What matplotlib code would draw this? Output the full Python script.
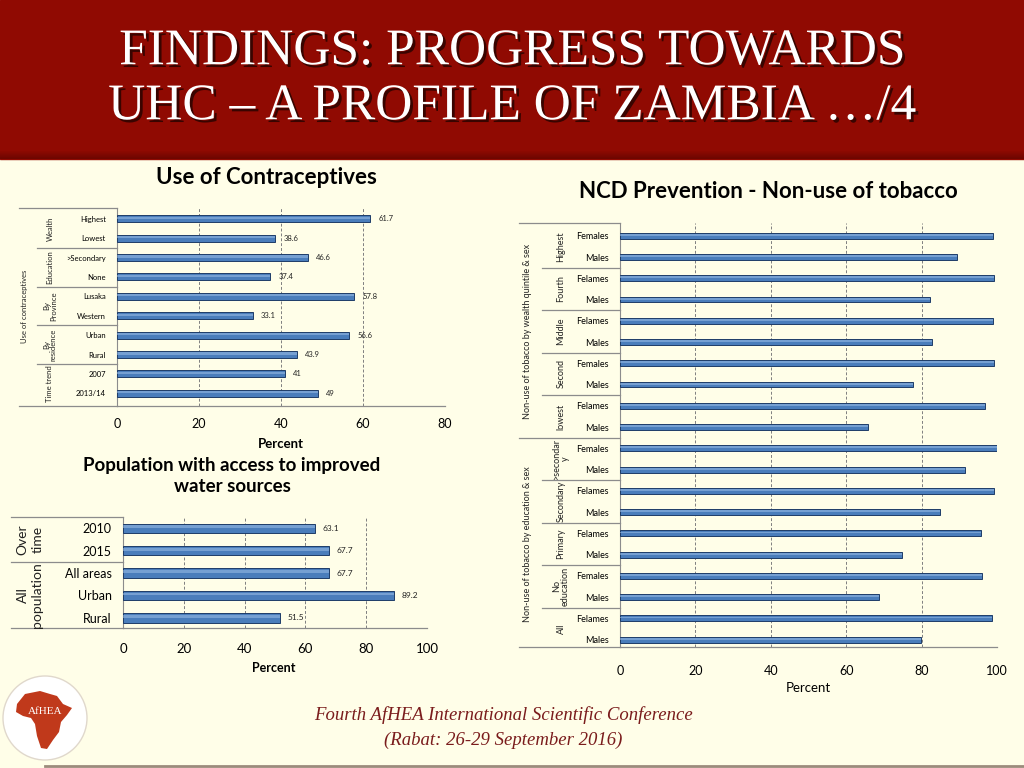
import matplotlib
matplotlib.use('Agg')
import matplotlib.pyplot as plt
import matplotlib.patheffects as pe
from matplotlib.patches import Rectangle, Circle, Polygon
from matplotlib.transforms import blended_transform_factory
import numpy as np

plt.rcParams['font.family'] = ['Lato', 'DejaVu Sans']

# ---- data ----
contra_cats = ['Highest', 'Lowest', '>Secondary', 'None', 'Lusaka', 'Western',
               'Urban', 'Rural', '2007', '2013/14']
contra_vals = [61.7, 38.6, 46.6, 37.4, 57.8, 33.1, 56.6, 43.9, 41, 49]
contra_groups = ['Wealth', 'Education', 'By\nProvince', 'By\nresidence', 'Time trend']
contra_group_sizes = [2, 2, 2, 2, 2]

water_cats = ['2010', '2015', 'All areas', 'Urban', 'Rural']
water_vals = [63.1, 67.7, 67.7, 89.2, 51.5]
water_groups = ['Over\ntime', 'All\npopulation']
water_group_sizes = [2, 3]

ncd_cats = ['Females', 'Males', 'Felames', 'Males', 'Felames', 'Males', 'Females', 'Males',
            'Felames', 'Males', 'Females', 'Males', 'Felames', 'Males', 'Felames', 'Males',
            'Females', 'Males', 'Felames', 'Males']
ncd_vals = [99.0, 89.3, 99.2, 82.2, 99.0, 82.7, 99.1, 77.8, 96.7, 65.9,
            100, 91.6, 99.3, 84.8, 95.8, 74.8, 96.1, 68.8, 98.6, 79.9]
ncd_groups = ['Highest', 'Fourth', 'Middle', 'Second', 'lowest',
              '>secondar\ny', 'Secondary', 'Primary', 'No\neducation', 'All']
ncd_group_sizes = [2] * 10
ncd_outer = ['Non-use of tobacco by wealth quintile & sex',
             'Non-use of tobacco by education & sex']
ncd_outer_sizes = [10, 10]

W, H = 1024, 768
CREAM = '#fffee8'
BAR = '#4a7dbb'
BAR_EDGE = '#1e3c68'
GRID = '#7f7f7f'
LINE = '#8c8c8c'

fig = plt.figure(figsize=(10.24, 7.68), dpi=100)
bg = fig.add_axes([0, 0, 1, 1], zorder=0)
bg.set_xlim(0, W)
bg.set_ylim(H, 0)
bg.axis('off')

# slide background and header
bg.add_patch(Rectangle((0, 0), W, H, color=CREAM))
bg.add_patch(Rectangle((0, 0), W, 159, color='#900a02'))
for i in range(8):
    bg.add_patch(Rectangle((0, 151 + i), W, 1, color='#5a0400', alpha=0.08 * (i + 1), lw=0))

shadow = [pe.SimplePatchShadow(offset=(2, -2), shadow_rgbFace='black', alpha=0.6), pe.Normal()]
bg.text(512, 52, 'FINDINGS: PROGRESS TOWARDS', ha='center', va='center', color='white',
        fontsize=37, family='Liberation Serif', path_effects=shadow)
bg.text(512, 107, 'UHC \u2013 A PROFILE OF ZAMBIA \u2026/4', ha='center', va='center', color='white',
        fontsize=37, family='Liberation Serif', path_effects=shadow)


def make_axes(x0, y0, x1, y1):
    return fig.add_axes([x0 / W, 1 - y1 / H, (x1 - x0) / W, (y1 - y0) / H], zorder=2)


def draw_chart(ax, cats, vals, xmax, bar_h, ylim, lab_size, tick_size, xpad, val_size=None):
    y = np.arange(len(cats))
    ax.set_facecolor('none')
    ax.barh(y, vals, height=bar_h, color=BAR, edgecolor=BAR_EDGE, lw=0.7, zorder=3)
    ax.barh(y - bar_h * 0.15, vals, height=bar_h * 0.3, color='#9cbde6', lw=0,
            alpha=0.55, zorder=4)
    if val_size:
        for yi, v in zip(y, vals):
            ax.text(v + xmax * 0.025, yi, f'{v:g}', va='center', ha='left',
                    fontsize=val_size, color='#222222', zorder=5)
    ax.set_xlim(0, xmax)
    ax.set_ylim(*ylim)
    ticks = list(range(0, xmax + 1, 20))
    ax.set_xticks(ticks)
    for t in ticks[1:]:
        ax.axvline(t, ls=(0, (3, 2)), color=GRID, lw=0.7, zorder=1)
    ax.set_yticks(y)
    ax.set_yticklabels(cats, fontsize=lab_size)
    ax.tick_params(length=0, labelsize=tick_size)
    ax.tick_params(axis='y', labelsize=lab_size, pad=8)
    ax.tick_params(axis='x', pad=xpad)
    for s in ['top', 'right', 'bottom']:
        ax.spines[s].set_visible(False)
    ax.spines['left'].set_color(LINE)
    ax.plot([0, 1], [0, 0], transform=ax.transAxes, color=LINE, lw=0.9, clip_on=False)


def draw_groups(ax, x0_px, outer_px, label_px, groups, sizes, size, bounds_from, lsp=1.0):
    tr = blended_transform_factory(bg.transData, ax.transData)
    tra = blended_transform_factory(bg.transData, ax.transAxes)
    ax.plot([outer_px, x0_px], [1, 1], transform=tra, color=LINE, lw=0.9, clip_on=False)
    ax.plot([outer_px, x0_px], [0, 0], transform=tra, color=LINE, lw=0.9, clip_on=False)
    start = 0
    for k, (g, n) in enumerate(zip(groups, sizes)):
        ax.text(label_px, start + (n - 1) / 2, g, transform=tr, rotation=90, ha='center',
                va='center', multialignment='center', fontsize=size, color='#222222',
                linespacing=lsp)
        start += n
        if k < len(groups) - 1:
            ax.plot([bounds_from(k), x0_px], [start - 0.5, start - 0.5], transform=tr,
                    color=LINE, lw=0.9, clip_on=False)


# ---- Use of contraceptives ----
ax1 = make_axes(117, 208, 445, 406)
draw_chart(ax1, contra_cats, contra_vals, 80, 0.36, (9.65, -0.55), 5.5, 9, 9, val_size=5.5)
draw_groups(ax1, 117, 19, 50, contra_groups, contra_group_sizes, 5.5, lambda k: 37)
ax1.text(25, 4.5, 'Use of contraceptives', transform=blended_transform_factory(bg.transData, ax1.transData),
         rotation=90, ha='center', va='center', fontsize=5.5, color='#222222')
bg.text(266, 178, 'Use of Contraceptives', ha='center', va='center', fontsize=16,
        fontweight='bold')
bg.text(281, 444, 'Percent', ha='center', va='center', fontsize=9.5, fontweight='bold')

# ---- Water ----
ax2 = make_axes(123, 517, 427, 628)
draw_chart(ax2, water_cats, water_vals, 100, 0.42, (4.45, -0.5), 9, 9.5, 11, val_size=6)
draw_groups(ax2, 123, 11, 30, water_groups, water_group_sizes, 10, lambda k: 11, lsp=1.3)
bg.text(232, 476, 'Population with access to improved\nwater sources', ha='center',
        va='center', fontsize=13.5, fontweight='bold', linespacing=1.35)
bg.text(274, 668, 'Percent', ha='center', va='center', fontsize=9, fontweight='bold')

# ---- NCD ----
ax3 = make_axes(620, 223, 997, 647)
draw_chart(ax3, ncd_cats, ncd_vals, 100, 0.28, (19.35, -0.6), 6.5, 9, 13)
draw_groups(ax3, 620, 519, 561, ncd_groups, ncd_group_sizes, 6.5,
            lambda k: 519 if k == 4 else 542)
tr3 = blended_transform_factory(bg.transData, ax3.transData)
start = 0
for g, n in zip(ncd_outer, ncd_outer_sizes):
    ax3.text(527, start + (n - 1) / 2, g, transform=tr3, rotation=90, ha='center',
             va='center', fontsize=6.5, color='#222222')
    start += n
bg.text(768, 191, 'NCD Prevention - Non-use of tobacco', ha='center', va='center',
        fontsize=16, fontweight='bold')
bg.text(808, 688, 'Percent', ha='center', va='center', fontsize=9.5)

# ---- footer ----
bg.text(503, 715, 'Fourth AfHEA International Scientific Conference', ha='center', va='center',
        fontsize=13.5, style='italic', family='Liberation Serif', color='#7a1c1c')
bg.text(503, 740, '(Rabat: 26-29 September 2016)', ha='center', va='center',
        fontsize=13.5, style='italic', family='Liberation Serif', color='#7a1c1c')
bg.plot([45, W], [766, 766], color='#9c8b7c', lw=2)

# logo
bg.add_patch(Circle((45, 718), 42, fc='white', ec='#e0d8cc', lw=1))
africa = [(-28, -14), (-20, -24), (-5, -27), (5, -24), (12, -22), (18, -14), (27, -10),
          (22, -3), (16, 4), (14, 14), (8, 22), (2, 31), (-4, 30), (-8, 18), (-10, 6),
          (-14, 0), (-22, -2), (-29, -6)]
bg.add_patch(Polygon([(45 + dx, 718 + dy) for dx, dy in africa], closed=True,
                     fc='#c0391b', ec='none'))
bg.text(45, 712, 'AfHEA', ha='center', va='center', fontsize=8, color='white',
        family='Liberation Serif')

fig.savefig('out.png', dpi=100, facecolor=CREAM)
